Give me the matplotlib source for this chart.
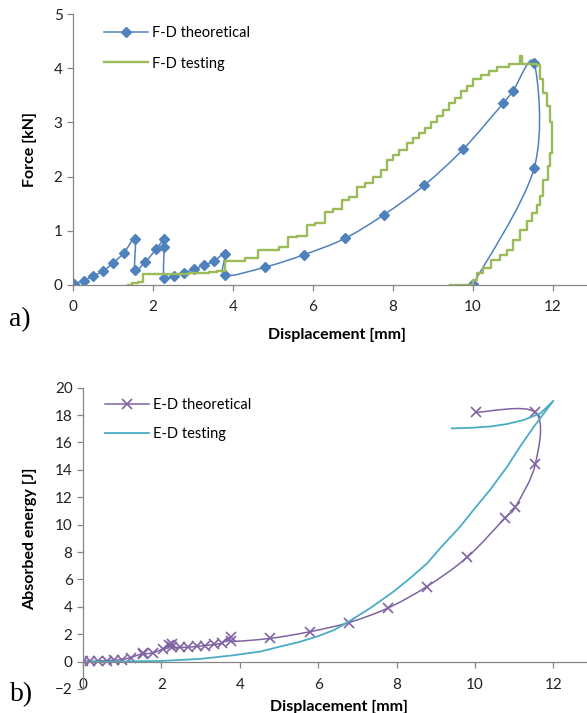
import numpy as np
import matplotlib
matplotlib.use("Agg")
import matplotlib.pyplot as plt
from matplotlib.path import Path
from matplotlib.patches import PathPatch
from matplotlib.lines import Line2D

plt.rcParams['font.family'] = ['Lato', 'DejaVu Sans']

# F-D theoretical (markers + smoothed line)
fd_theo_x = [0.02, 0.27, 0.51, 0.76, 1.01, 1.27, 1.55, 1.55, 1.81, 2.08, 2.28, 2.28, 2.28,
             2.52, 2.77, 3.02, 3.28, 3.53, 3.80, 3.80, 4.80, 5.78, 6.80, 7.78, 8.78, 9.76,
             10.75, 11.0, 11.53, 11.53, 10.01]
fd_theo_y = [0.02, 0.08, 0.17, 0.26, 0.41, 0.59, 0.85, 0.28, 0.43, 0.66, 0.85, 0.71, 0.13,
             0.17, 0.23, 0.29, 0.37, 0.44, 0.57, 0.18, 0.33, 0.56, 0.86, 1.30, 1.84, 2.51,
             3.35, 3.58, 4.10, 2.16, 0.02]

# F-D testing (stepped measurement trace)
fd_test_x = [1.37, 1.47, 1.62, 1.75, 2.35, 2.9, 3.4, 3.6, 3.79, 4.3, 4.63, 5.15, 5.38, 5.6,
             5.84, 6.05, 6.3, 6.5, 6.72, 6.9, 7.1, 7.3, 7.5, 7.7, 7.85, 8.0, 8.15, 8.35, 8.5,
             8.65, 8.8, 8.95, 9.1, 9.25, 9.4, 9.55, 9.7, 9.85, 10.0, 10.2, 10.4, 10.6, 10.9,
             11.18, 11.22, 11.6,
             11.68, 11.75, 11.84, 11.92, 11.97, 11.97, 11.93, 11.88, 11.76, 11.68, 11.59,
             11.47, 11.34, 11.18, 11.01, 10.85, 10.68, 10.45, 10.26, 10.09, 10.0, 9.43]
fd_test_y = [0.0, 0.03, 0.06, 0.2, 0.21, 0.22, 0.24, 0.26, 0.45, 0.49, 0.65, 0.7, 0.89, 0.91,
             1.1, 1.15, 1.35, 1.4, 1.57, 1.62, 1.8, 1.88, 2.0, 2.12, 2.3, 2.4, 2.5, 2.62, 2.72,
             2.8, 2.9, 3.0, 3.12, 3.22, 3.35, 3.45, 3.58, 3.68, 3.8, 3.88, 3.95, 4.02, 4.07,
             4.22, 4.07, 4.06,
             3.8, 3.55, 3.3, 3.0, 2.69, 2.44, 2.2, 1.94, 1.64, 1.48, 1.33,
             1.18, 1.02, 0.83, 0.65, 0.55, 0.46, 0.32, 0.22, 0.09, 0.0, 0.0]

# E-D theoretical
ed_theo_x = [0.0, 0.19, 0.37, 0.61, 0.78, 0.99, 1.22, 1.52, 1.52, 1.79, 2.05, 2.2, 2.27, 2.27,
             2.48, 2.69, 2.91, 3.12, 3.33, 3.55, 3.78, 3.78, 4.78, 5.80, 6.78, 7.77, 8.77,
             9.80, 10.77, 11.03, 11.54, 11.54, 10.03]
ed_theo_y = [0.08, 0.02, 0.05, 0.08, 0.1, 0.15, 0.3, 0.6, 0.55, 0.65, 0.95, 1.2, 1.25, 1.05,
             1.05, 1.05, 1.12, 1.17, 1.25, 1.36, 1.82, 1.48, 1.7, 2.19, 2.85, 3.9, 5.48,
             7.62, 10.5, 11.3, 14.43, 18.2, 18.2]

# E-D testing
ed_test_x = [0.2, 1.0, 2.0, 3.0, 3.8, 4.52, 5.03, 5.5, 5.97, 6.4, 6.78, 7.35, 7.92, 8.35,
             8.78, 9.11, 9.62, 9.96, 10.4, 10.82, 11.15, 11.5, 12.0,
             11.67, 11.25, 10.82, 10.4, 9.96, 9.41]
ed_test_y = [0.0, 0.01, 0.05, 0.2, 0.45, 0.73, 1.1, 1.42, 1.83, 2.3, 2.92, 3.95, 5.11, 6.1,
             7.18, 8.28, 9.85, 11.07, 12.6, 14.23, 15.7, 17.15, 19.05,
             18.13, 17.65, 17.35, 17.17, 17.08, 17.03]

BLUE = '#4F81BD'
GREEN = '#9BBB59'
PURPLE = '#8064A2'
CYAN = '#4BACC6'
GRAY = '#868686'


def smooth_path(xs, ys):
    # Excel-style smoothed line: cubic Bezier through every data point
    pts = np.column_stack([xs, ys]).astype(float)
    n = len(pts)
    verts = [pts[0]]
    codes = [Path.MOVETO]
    for i in range(n - 1):
        p0 = pts[i - 1] if i > 0 else pts[i]
        p1 = pts[i]
        p2 = pts[i + 1]
        p3 = pts[i + 2] if i + 2 < n else pts[i + 1]
        verts += [p1 + (p2 - p0) / 6, p2 - (p3 - p1) / 6, p2]
        codes += [Path.CURVE4] * 3
    return Path(verts, codes)


def style_axes(ax):
    for s in ['top', 'right']:
        ax.spines[s].set_visible(False)
    for s in ['left', 'bottom']:
        ax.spines[s].set_color(GRAY)
        ax.spines[s].set_linewidth(0.9)
    ax.tick_params(colors=GRAY, labelcolor='#222222', length=4, width=0.9,
                   labelsize=11, direction='out')


W, H = 587, 713
fig = plt.figure(figsize=(W / 100, H / 100), dpi=100)

# ---- a) Force - displacement
ax1 = fig.add_axes([73 / W, 1 - 285 / H, (W - 73) / W, 271 / H])
style_axes(ax1)
ax1.add_patch(PathPatch(smooth_path(fd_theo_x, fd_theo_y), fill=False,
                        edgecolor=BLUE, lw=1.1))
ax1.plot(fd_theo_x, fd_theo_y, ls='none', marker='D', ms=5.5, color=BLUE)
ax1.plot(fd_test_x, fd_test_y, drawstyle='steps-post', color=GREEN, lw=1.7)
ax1.set_xlim(0, (W - 73) / 40)
ax1.set_ylim(0, 5)
ax1.set_xticks(range(0, 13, 2))
ax1.set_yticks(range(0, 6))
ax1.tick_params(axis='x', pad=7)
ax1.set_xlabel('Displacement [mm]', fontweight='bold', fontsize=11.5)
ax1.set_ylabel('Force [kN]', fontweight='bold', fontsize=11.5)
ax1.xaxis.set_label_coords(0.514, -0.16)
ax1.yaxis.set_label_coords(-0.07, 0.5)
h1 = [Line2D([], [], color=BLUE, marker='D', ms=5.5, lw=1.1),
      Line2D([], [], color=GREEN, lw=1.7)]
ax1.legend(h1, ['F-D theoretical', 'F-D testing'], loc='upper left',
           bbox_to_anchor=(0.035, 1.005), frameon=False, fontsize=10.5,
           handlelength=3.0, handletextpad=0.25, labelspacing=1.15)
fig.text(20 / W, 1 - 320 / H, 'a)', family='Liberation Serif', fontsize=20,
         ha='center', va='center')

# ---- b) Energy - displacement
ax2 = fig.add_axes([83 / W, 1 - 689 / H, (W - 83) / W, 301.3 / H])
style_axes(ax2)
ax2.spines['bottom'].set_position(('data', 0))
ax2.add_patch(PathPatch(smooth_path(ed_theo_x, ed_theo_y), fill=False,
                        edgecolor=PURPLE, lw=1.1))
ax2.plot(ed_theo_x, ed_theo_y, ls='none', marker='x', ms=6.5, mew=1.2, color=PURPLE)
ax2.plot(ed_test_x, ed_test_y, color=CYAN, lw=1.3)
ax2.set_xlim(0, (W - 83) / 39.2)
ax2.set_ylim(-2, 20)
ax2.set_xticks(range(0, 13, 2))
ax2.set_yticks(range(-2, 21, 2))
ax2.tick_params(axis='x', pad=8)
ax2.set_xlabel('Displacement [mm]', fontweight='bold', fontsize=11.5)
ax2.set_ylabel('Absorbed energy [J]', fontweight='bold', fontsize=11.5)
ax2.xaxis.set_label_coords(0.508, -0.037)
ax2.yaxis.set_label_coords(-0.091, 0.5)
h2 = [Line2D([], [], color=PURPLE, marker='x', ms=6.5, mew=1.2, lw=1.1),
      Line2D([], [], color=CYAN, lw=1.3)]
ax2.legend(h2, ['E-D theoretical', 'E-D testing'], loc='upper left',
           bbox_to_anchor=(0.018, 1.01), frameon=False, fontsize=10.5,
           handlelength=3.0, handletextpad=0.25, labelspacing=1.05)
fig.text(22 / W, 1 - 695 / H, 'b)', family='Liberation Serif', fontsize=20,
         ha='center', va='center')

fig.savefig('out.png', dpi=100)
